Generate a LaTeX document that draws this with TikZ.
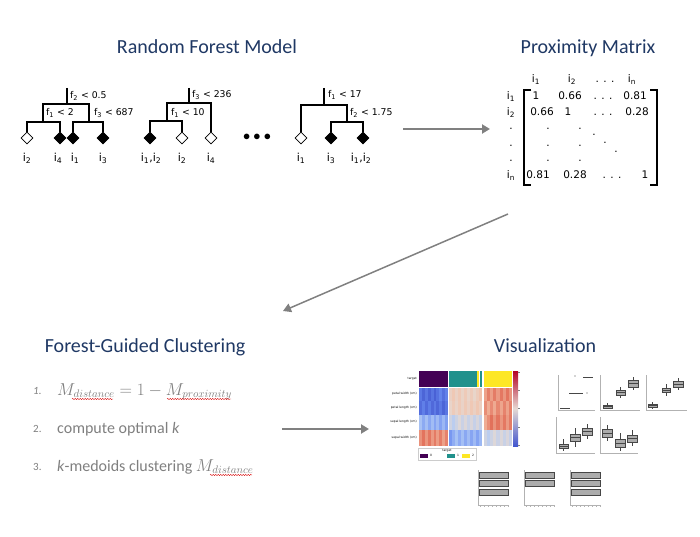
\documentclass[tikz,border=0pt]{standalone}
\usepackage{fontspec}
\setmainfont{Carlito}
\newfontfamily\verd{DejaVu Sans}
\usetikzlibrary{shapes.geometric,arrows.meta,decorations.pathmorphing}

\definecolor{titleblue}{HTML}{1F3864}
\definecolor{txtgray}{HTML}{7F7F7F}
\definecolor{arrowgray}{HTML}{808080}
\definecolor{hmdeep}{HTML}{4257CF}
\definecolor{hmblue}{HTML}{6A8CF0}
\definecolor{hmlight}{HTML}{B2CBF5}
\definecolor{hmpale}{HTML}{E6D9D2}
\definecolor{hmpink}{HTML}{F3BFA6}
\definecolor{hmred}{HTML}{DF634E}
\definecolor{hmdark}{HTML}{B40426}
\definecolor{cl0}{HTML}{440154}
\definecolor{cl1}{HTML}{21918C}
\definecolor{cl2}{HTML}{FDE725}

% heatmap stripes: x0, y0, width, height, count, colour a, colour b
\newcommand{\hmstripes}[7]{%
  \foreach \k in {1,...,#5}{%
    \pgfmathtruncatemacro{\mixv}{mod(\k*37+#1+#2*7,70)+15}%
    \fill[#6!\mixv!#7] ({#1+(\k-1)*#3/#5},#2) rectangle ({#1+\k*#3/#5},{#2+#4});
  }}
% box plot: x, width, q1, q3, low, high
\newcommand{\bplot}[6]{%
  \draw[gray!55!black, line width=0.3pt] ({#1+#2/2},#5) -- ({#1+#2/2},#6);
  \draw[bx] (#1,#3) rectangle ({#1+#2},#4);
  \draw[gray!55!black, line width=0.3pt] (#1,{(#3+#4)/2}) -- ({#1+#2},{(#3+#4)/2});}

\tikzset{
  title/.style={anchor=base, inner sep=0pt, text=titleblue, font=\fontsize{20}{24}\selectfont},
  branch/.style={line width=2.2pt},
  leafopen/.style={diamond, draw, line width=0.8pt, fill=white, inner sep=0pt, minimum size=12pt},
  leaffull/.style={leafopen, fill=black},
  split/.style={anchor=base west, inner sep=0pt, font=\verd\fontsize{9.3}{10}\selectfont},
  leaflab/.style={anchor=base, inner sep=0pt, font=\verd\fontsize{11}{12}\selectfont},
  mat/.style={anchor=base, inner sep=0pt, font=\verd\fontsize{10.5}{11}\selectfont},
  dot/.style={inner sep=0pt, font=\verd\fontsize{10.5}{11}\selectfont},
  flow/.style={arrowgray, line width=2pt, -{Triangle[length=8pt,width=9pt]}},
  item/.style={anchor=base west, inner sep=0pt, text=txtgray, font=\fontsize{16}{19}\selectfont},
  num/.style={anchor=base west, inner sep=0pt, text=txtgray, font=\fontsize{11}{13}\selectfont},
  squiggle/.style={red!85!black, line width=0.4pt, decorate, decoration={snake, amplitude=0.6pt, segment length=2.5pt}},
  tiny/.style={inner sep=0pt, font=\verd\fontsize{3}{3.5}\selectfont},
  bx/.style={draw=gray!55!black, fill=gray!65, line width=0.3pt},
  ax/.style={gray!60, line width=0.3pt},
}

\begin{document}
\begin{tikzpicture}[x=1pt,y=-1pt]
  \useasboundingbox (0,0) rectangle (700,537);

  % titles
  \node[title] (rfm) at (207,54) {Random Forest Model};
  \node[title] (pm) at (588,54) {Proximity Matrix};
  \node[title] (fgc) at (145,352) {Forest-Guided Clustering};
  \node[title] (vis) at (545,352) {Visualization};

  % tree 1
  \coordinate (t1top) at (67,88);
  \coordinate (t1s) at (67,104);
  \coordinate (t1a) at (43,122);
  \coordinate (t1b) at (89,122);
  \node[leafopen] (t1l1) at (27,138) {};
  \node[leaffull] (t1l2) at (60,138) {};
  \node[leaffull] (t1l3) at (73,138) {};
  \node[leaffull] (t1l4) at (103,138) {};
  \draw[branch] (t1top) -- (t1s);
  \draw[branch] (t1a) |- (t1s) -| (t1b);
  \draw[branch] (t1l1) |- (t1a) -| (t1l2);
  \draw[branch] (t1l3) |- (t1b) -| (t1l4);
  \node[split] (t1c1) at (70,99) {f\textsubscript{2} < 0.5};
  \node[split] (t1c2) at (46,116) {f\textsubscript{1} < 2};
  \node[split] (t1c3) at (94,116) {f\textsubscript{3} < 687};
  \node[leaflab] (t1n1) at (27,162) {i\textsubscript{2}};
  \node[leaflab] (t1n2) at (58,162) {i\textsubscript{4}};
  \node[leaflab] (t1n3) at (75,162) {i\textsubscript{1}};
  \node[leaflab] (t1n4) at (103,162) {i\textsubscript{3}};

  % tree 2
  \coordinate (t2top) at (189,88);
  \coordinate (t2s) at (189,103);
  \coordinate (t2a) at (167,121);
  \node[leaffull] (t2l1) at (150,138) {};
  \node[leafopen] (t2l2) at (182,138) {};
  \node[leafopen] (t2l3) at (211,138) {};
  \draw[branch] (t2top) -- (t2s);
  \draw[branch] (t2a) |- (t2s) -| (t2l3);
  \draw[branch] (t2l1) |- (t2a) -| (t2l2);
  \node[split] (t2c1) at (192,98) {f\textsubscript{3} < 236};
  \node[split] (t2c2) at (171,116) {f\textsubscript{1} < 10};
  \node[leaflab] (t2n1) at (151,162) {i\textsubscript{1},i\textsubscript{2}};
  \node[leaflab] (t2n2) at (182,162) {i\textsubscript{2}};
  \node[leaflab] (t2n3) at (211,162) {i\textsubscript{4}};

  \node[inner sep=0pt, font=\fontsize{14}{14}\selectfont] (more) at (257,137) {$\bullet\bullet\bullet$};

  % tree 3
  \coordinate (t3top) at (324,88);
  \coordinate (t3s) at (324,105);
  \coordinate (t3b) at (347,122);
  \node[leafopen] (t3l1) at (301,138) {};
  \node[leaffull] (t3l2) at (331,138) {};
  \node[leaffull] (t3l3) at (363,138) {};
  \draw[branch] (t3top) -- (t3s);
  \draw[branch] (t3l1) |- (t3s) -| (t3b);
  \draw[branch] (t3l2) |- (t3b) -| (t3l3);
  \node[split] (t3c1) at (328,98) {f\textsubscript{1} < 17};
  \node[split] (t3c2) at (350,116) {f\textsubscript{2} < 1.75};
  \node[leaflab] (t3n1) at (301,162) {i\textsubscript{1}};
  \node[leaflab] (t3n2) at (331,162) {i\textsubscript{3}};
  \node[leaflab] (t3n3) at (361,162) {i\textsubscript{1},i\textsubscript{2}};

  % proximity matrix
  \node[mat] (h1) at (536,83) {i\textsubscript{1}};
  \node[mat] (h2) at (572,83) {i\textsubscript{2}};
  \node[mat] (h3) at (605,83) {. . .};
  \node[mat] (h4) at (632,83) {i\textsubscript{n}};
  \node[mat] (r1) at (511,100) {i\textsubscript{1}};
  \node[mat] (r2) at (511,116) {i\textsubscript{2}};
  \node[mat] (r6) at (511,179) {i\textsubscript{n}};
  \node[mat] (m11) at (536,100) {1};
  \node[mat] (m12) at (570,100) {0.66};
  \node[mat] (m13) at (603,100) {. . .};
  \node[mat] (m14) at (635,100) {0.81};
  \node[mat] (m21) at (542,116) {0.66};
  \node[mat] (m22) at (568,116) {1};
  \node[mat] (m23) at (603,116) {. . .};
  \node[mat] (m24) at (637,116) {0.28};
  \node[mat] (m61) at (538,179) {0.81};
  \node[mat] (m62) at (575,179) {0.28};
  \node[mat] (m63) at (612,179) {. . .};
  \node[mat] (m64) at (645,179) {1};
  \foreach \y in {129,146,161}
  {
    \node[dot] (dr\y) at (511,\y) {.};
    \node[dot] (da\y) at (548,\y) {.};
    \node[dot] (db\y) at (580,\y) {.};
  }
  \node[dot] (dd1) at (594,135) {.};
  \node[dot] (dd2) at (605,143) {.};
  \node[dot] (dd3) at (616,152) {.};
  \draw[line width=1.3pt] (531,90) -- (524,90) -- (524,185) -- (531,185);
  \draw[line width=1.3pt] (650,90) -- (657,90) -- (657,185) -- (650,185);

  % arrows
  \coordinate (a1s) at (403,129);
  \coordinate (a1e) at (490,129);
  \coordinate (a2s) at (508,214);
  \coordinate (a2e) at (283,311);
  \coordinate (a3s) at (282,429);
  \coordinate (a3e) at (369,429);
  \draw[flow] (a1s) -- (a1e);
  \draw[flow, line width=1.5pt] (a2s) -- (a2e);
  \draw[flow] (a3s) -- (a3e);

  % clustering steps
  \node[num, font=\itshape\fontsize{11}{13}\selectfont] (n1) at (33,394) {1.};
  \node[item] (s1) at (57,395) {$M_{distance} = 1 - M_{proximity}$};
  \node[num] (n2) at (33,432) {2.};
  \node[item] (s2) at (57,433) {compute optimal \textit{k}};
  \node[num] (n3) at (33,470) {3.};
  \node[item] (s3) at (57,471) {\textit{k}-medoids clustering $M_{distance}$};
  \draw[squiggle] (72,399) -- (113,399);
  \draw[squiggle] (167,399) -- (231,399);
  \draw[squiggle] (210,475) -- (252,475);

  % heatmap
  \fill[cl0] (419,371) rectangle (448,387);
  \fill[cl1] (449,371) rectangle (477,387);
  \fill[cl2] (477,371) rectangle (479,387);
  \fill[cl1] (480,371) rectangle (482,387);
  \fill[cl2] (484,371) rectangle (512,387);
  \hmstripes{419}{388}{29}{13}{10}{hmdeep}{hmblue}
  \hmstripes{419}{401}{29}{14}{10}{hmdeep}{hmblue}
  \hmstripes{419}{415}{29}{15}{10}{hmblue}{hmlight}
  \hmstripes{419}{430}{29}{16}{10}{hmpink}{hmred}
  \hmstripes{449}{388}{33}{13}{11}{hmpale}{hmpink}
  \hmstripes{449}{401}{33}{14}{11}{hmpink}{hmpale}
  \hmstripes{449}{415}{33}{15}{11}{hmlight}{hmpale}
  \hmstripes{449}{430}{33}{16}{11}{hmblue}{hmlight}
  \hmstripes{484}{388}{28}{13}{9}{hmred}{hmpink}
  \hmstripes{484}{401}{28}{14}{9}{hmred}{hmpink}
  \hmstripes{484}{415}{28}{15}{9}{hmpink}{hmred}
  \hmstripes{484}{430}{28}{16}{9}{hmlight}{hmpale}
  \shade[top color=hmdark, bottom color=hmdeep, middle color=hmpale] (513,371) rectangle (518,446);
  \foreach \y in {372,390,408,427,445}
    \draw[gray, line width=0.2pt] (518,\y) -- (519.5,\y);
  \node[tiny, anchor=east] (hl0) at (417,379) {target};
  \node[tiny, anchor=east] (hl1) at (417,394) {petal width (cm)};
  \node[tiny, anchor=east] (hl2) at (417,408) {petal length (cm)};
  \node[tiny, anchor=east] (hl3) at (417,422) {sepal length (cm)};
  \node[tiny, anchor=east] (hl4) at (417,438) {sepal width (cm)};
  \draw[gray!40, line width=0.3pt] (418,448) rectangle (476,460);
  \node[tiny] (lgt) at (447,450.5) {target};
  \fill[cl0] (420,453.5) rectangle (428,457.5);
  \node[tiny] (lg0) at (431,455.5) {0};
  \fill[cl1] (447,453.5) rectangle (455,457.5);
  \node[tiny] (lg1) at (458,455.5) {1};
  \fill[cl2] (462,453.5) rectangle (470,457.5);
  \node[tiny] (lg2) at (473,455.5) {2};

  % box plots
  \draw[ax] (558,375) -- (558,410) -- (595,410);
  \draw[ax] (600,375) -- (600,410) -- (640,410);
  \draw[ax] (646,375) -- (646,410) -- (687,410);
  \draw[ax] (556,417) -- (556,453) -- (595,453);
  \draw[ax] (600,417) -- (600,453) -- (638,453);
  \draw[gray!55!black, line width=0.6pt] (560,408) -- (570,408);
  \draw[gray!55!black, line width=0.6pt] (569,393) -- (583,393);
  \draw[gray!55!black, line width=0.6pt] (583,377) -- (593,377);
  \fill[gray!55!black] (587,393) circle (0.6);
  \fill[gray!55!black] (575,376) circle (0.6);
  \bplot{603}{9}{405}{408}{403}{409}
  \bplot{616}{9}{390}{395}{387}{398}
  \bplot{628}{10}{380}{387}{377}{390}
  \bplot{648}{9}{404}{407}{402}{409}
  \bplot{662}{8}{388}{392}{384}{396}
  \bplot{673}{10}{381}{387}{378}{390}
  \bplot{559}{9}{444}{448}{439}{451}
  \bplot{570}{10}{434}{441}{428}{447}
  \bplot{582}{10}{428}{435}{424}{439}
  \bplot{602}{10}{429}{437}{425}{441}
  \bplot{615}{10}{439}{447}{433}{451}
  \bplot{627}{10}{435}{442}{430}{446}

  % bar plots
  \foreach \px/\nb in {478/3,524/2,570/3}
  {
    \draw[ax] (\px,470) -- (\px,505) -- (\px+31,505);
    \foreach \t in {0,...,7}
      \draw[ax] (\px+2+\t*4,505) -- (\px+2+\t*4,506.5);
    \foreach \b in {1,...,\nb}
      \draw[bx] (\px+1,463.5+\b*8.5) rectangle (\px+30,469.5+\b*8.5);
  }
\end{tikzpicture}
\end{document}
